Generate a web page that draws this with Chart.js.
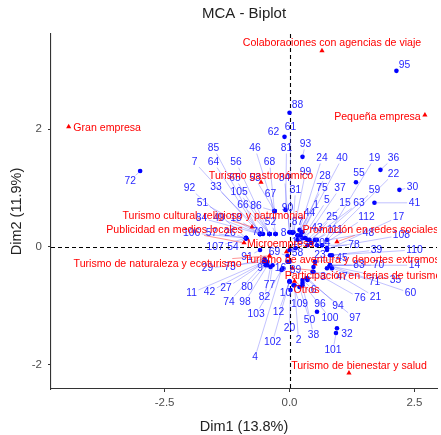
<!DOCTYPE html>
<html>
<head>
  <meta charset="UTF-8">
  <title>MCA - Biplot</title>
  <script src="https://cdn.jsdelivr.net/npm/chart.js"></script>
  <style>
    body { margin: 0; background: #fff; }
    #biplot { display: block; }
  </style>
</head>
<body>
  <canvas id="biplot" width="441" height="435"></canvas>

  <script>
    // individuals: coordinates and where their repelled labels sit
    const indId = [];
    for (let i = 1; i <= 112; i++) indId.push(String(i));
    const indDim1 = [0.22, 0.10, 0.34, -0.16, 0.26, 0.26, -0.59, -0.28, -0.44, 0, -0.51, 0, 0.12, 0.81, 0.36, -0.04, 0.75, -0.59, 0.65, 0.02,
      0.75, 0.75, 0.48, 0.20, 0.36, -0.87, -0.48, 0.24, -0.51, 2.20, 0.06, 0.93, -0.53, 0, 0.81, 1.82, 0.32, 0.26, 0.85, 0.26,
      1.70, -0.48, 0.16, 0.16, 0.51, -0.30, 0.46, 0.44, -0.59, 0.20, -0.59, -0.28, -0.30, -0.87, 1.33, -0.40, -0.87, 0, 0.55, 0.81,
      0.02, -0.10, 0.40, -0.59, -0.40, -0.40, -0.28, -0.30, -0.04, 0.81, 0.85, -2.99, -0.50, -0.48, 0.16, 0.48, -0.34, 0.55, -0.40, -0.48,
      -0.08, -0.38, 0.81, -0.59, -0.59, -0.30, 0.06, 0, 0, 0, -0.59, -0.87, 0.26, 0.36, 2.14, 0.55, 0.36, -0.44, 0.08, 0.26,
      0.95, 0, -0.14, 0.44, -0.40, -0.87, -0.87, 0.75, 0.08, 0.81, 0.51, 0.65];
    const indDim2 = [0.20, -0.65, -0.53, -0.39, 0.15, -0.56, 0.22, 0.22, -0.25, -0.58, -0.25, -0.59, -0.02, -0.31, 0.12, -0.25, -0.05, 0.22, 0.03, -0.73,
      -0.36, 0.12, -0.34, 0.29, 0.03, 0.15, -0.25, 0.25, -0.25, 0.97, 0.25, -1.46, 0.22, 0.25, -0.32, 1.31, 0.15, -0.65, -0.14, 0.25,
      0.75, -0.25, 0.12, 0.19, -0.25, 0.61, -0.42, 0.07, 0.22, -0.68, 0.22, 0.22, 0.61, 0.15, 1.10, 0.22, 0.15, -0.05, 0.12, -0.32,
      0.25, 1.87, 0.12, 0.22, 0.22, 0.22, 0.22, 0.61, -0.15, -0.31, -0.36, 1.29, -0.20, -0.25, 0.20, -0.42, -0.31, 0.03, 0.22, -0.31,
      0.63, -0.34, -0.31, 0.22, 0.22, 0.61, 0.24, 2.28, -0.25, 0.25, -0.05, 0.15, 1.53, -0.53, 2.99, -1.10, -0.56, -0.31, 0.25, -0.61,
      -1.38, -0.59, -0.36, 0.07, 0.22, 0.15, 0.15, -0.02, -0.65, -0.14, 0.12, 0.03];
    const indLabDim1 = [0.53, 0.18, 0.67, -0.69, 0.75, 0.48, -1.90, -0.12, -0.59, -0.08, -1.96, -0.22, 0.16, 2.50, 1.11, -0.18, 2.18, -1.07, 1.70, 0,
      1.72, 2.08, 0.61, 0.65, 0.85, -1.19, -1.27, 0.71, -1.64, 2.46, 0.12, 1.15, -1.47, -0.10, 2.12, 2.08, 1.01, 0.48, 1.74, 1.05,
      2.50, -1.60, 0.55, 0.40, 1.05, -0.69, 1.05, 1.58, -1.41, 0.40, -1.74, -0.38, -0.69, -1.13, 1.39, -1.07, -1.56, 0.16, 1.70, 2.42,
      0.02, -0.32, 1.39, -1.52, -1.09, -0.93, -0.38, -0.40, -0.30, 1.78, 1.70, -3.19, -1.19, -1.21, 0.65, 1.41, -0.40, 1.29, -0.63, -0.85,
      -0.06, -0.50, 1.39, -1.76, -1.52, -0.67, 0.16, 0.16, 0.12, -0.04, -0.85, -2.00, 0.32, 0.97, 2.30, 0.61, 1.31, -0.89, 0.32, 0.81,
      0.87, -0.34, -0.67, 0.65, -1.01, -1.96, -1.49, 2.24, 0.20, 2.50, 0.91, 1.54];
    const indLabDim2 = [0.71, -1.58, -0.51, -1.87, 0.80, -0.73, 1.44, 0.24, -0.36, -0.78, -0.78, -1.10, 0.08, -0.31, 0.75, -0.36, 0.51, 0.49, 1.51, -1.38,
      -0.85, 1.24, -0.14, 1.51, 0.51, 0.24, -0.70, 1.21, -0.36, 1.02, 0.97, -1.48, 1.02, 1.17, -0.56, 1.51, 1.00, -1.49, -0.05, 1.51,
      0.75, -0.76, 0.32, 0.58, -0.19, 1.68, -0.51, 0.24, 0.49, -1.24, 0.75, 0.42, 1.17, 0, 1.26, 1.44, 0.24, -0.10, 0.97, -0.78,
      2.04, 1.95, 0.75, 1.44, 1.17, 0.71, 0.90, 1.44, -0.08, -0.31, -0.59, 1.12, -0.34, -0.93, 1.00, -0.87, -0.65, 0.03, 0.25, -0.68,
      1.68, -0.85, -0.31, 0.49, 1.68, 0.70, 0.42, 2.41, -0.39, 0.66, -0.17, 1.00, 1.75, -1.00, 3.09, -0.97, -1.21, -0.93, 1.27, -1.21,
      -1.75, -1.61, -1.14, 0.07, 0.93, 0.24, 0, 0.20, -0.97, -0.05, 0.29, 0.51];

    // variable categories
    const catNames = ['Colaboraciones con agencias de viaje', 'Gran empresa', 'Pequeña empresa', 'Turismo gastronómico',
      'Turismo cultural, religioso y patrimonial', 'Publicidad en medios locales', 'Microempresa', 'Promoción en redes sociales',
      'Turismo de naturaleza y ecoturismo', 'Turismo de aventura y deportes extremos', 'Participación en ferias de turismo',
      'Otros', 'Turismo de bienestar y salud'];
    const catDim1 = [0.65, -4.42, 2.71, -0.57, -0.75, -0.91, -0.06, 0.95, -0.40, 0.51, 0.06, 0.10, 1.19];
    const catDim2 = [3.33, 2.04, 2.24, 1.10, 0.34, 0.07, -0.08, 0.09, -0.15, -0.29, -0.36, -0.58, -2.14];
    const catLabDim1 = [0.85, -3.65, 1.76, -0.57, -1.51, -2.30, -0.18, 1.62, -2.64, 1.05, 1.47, 0.34, 1.39];
    const catLabDim2 = [3.46, 2.02, 2.21, 1.21, 0.53, 0.29, 0.05, 0.29, -0.29, -0.22, -0.49, -0.73, -2.02];

    const xTicks = [-2.5, 0, 2.5];
    const yTicks = [-2, 0, 2];

    const FONT = '"Liberation Sans", Arial, sans-serif';

    function drawRepel(ctx, xs, ys, px, py, lx, ly, text, font, textColor, segColor) {
      ctx.font = font;
      const w = ctx.measureText(text).width;
      const h = 9;
      const cx = xs.getPixelForValue(lx), cy = ys.getPixelForValue(ly);
      const ax = xs.getPixelForValue(px), ay = ys.getPixelForValue(py);
      const dx = ax - cx, dy = ay - cy;
      const hw = w / 2 + 1.5, hh = h / 2 + 1;
      let t = Infinity;
      if (dx !== 0) t = Math.min(t, hw / Math.abs(dx));
      if (dy !== 0) t = Math.min(t, hh / Math.abs(dy));
      if (t < 1) {
        const sx = cx + dx * t, sy = cy + dy * t;
        if (Math.hypot(ax - sx, ay - sy) > 5) {
          ctx.strokeStyle = segColor;
          ctx.lineWidth = 0.7;
          ctx.beginPath();
          ctx.moveTo(sx, sy);
          ctx.lineTo(ax, ay);
          ctx.stroke();
        }
      }
      ctx.fillStyle = textColor;
      ctx.textAlign = 'center';
      ctx.textBaseline = 'middle';
      ctx.fillText(text, cx, cy);
    }

    const biplotDecor = {
      id: 'biplotDecor',
      beforeDatasetsDraw(chart) {
        const { ctx, chartArea: a, scales: { x, y } } = chart;
        ctx.save();
        ctx.strokeStyle = '#000';
        ctx.lineWidth = 1.1;
        ctx.setLineDash([4, 3]);
        const x0 = Math.round(x.getPixelForValue(0)) + 0.5;
        const y0 = Math.round(y.getPixelForValue(0)) + 0.5;
        ctx.beginPath();
        ctx.moveTo(x0, a.top); ctx.lineTo(x0, a.bottom);
        ctx.moveTo(a.left, y0); ctx.lineTo(a.right, y0);
        ctx.stroke();
        ctx.restore();
      },
      afterDatasetsDraw(chart) {
        const { ctx, chartArea: a, scales: { x, y } } = chart;
        ctx.save();
        ctx.beginPath();
        ctx.rect(a.left, a.top, a.right - a.left, a.bottom - a.top);
        ctx.clip();
        indId.forEach((id, i) => {
          drawRepel(ctx, x, y, indDim1[i], indDim2[i], indLabDim1[i], indLabDim2[i], id,
            '10.3px ' + FONT, 'rgb(40,40,255)', 'rgba(60,60,255,0.45)');
        });
        catNames.forEach((name, i) => {
          drawRepel(ctx, x, y, catDim1[i], catDim2[i], catLabDim1[i], catLabDim2[i], name,
            '10.6px ' + FONT, '#FF0000', 'rgba(255,0,0,0.6)');
        });
        ctx.restore();
      },
      afterDraw(chart) {
        const { ctx, chartArea: a } = chart;
        ctx.save();
        ctx.fillStyle = '#222';
        ctx.textAlign = 'center';
        ctx.textBaseline = 'middle';
        ctx.font = '15px ' + FONT;
        ctx.fillText('MCA - Biplot', (a.left + a.right) / 2, 14);
        ctx.font = '14.5px ' + FONT;
        ctx.fillText('Dim1 (13.8%)', (a.left + a.right) / 2, 427);
        ctx.translate(17, (a.top + a.bottom) / 2);
        ctx.rotate(-Math.PI / 2);
        ctx.fillText('Dim2 (11.9%)', 0, 0);
        ctx.restore();
      }
    };

    new Chart(document.getElementById('biplot'), {
      type: 'scatter',
      data: {
        datasets: [{
          label: 'Individuos',
          data: indDim1.map((v, i) => ({ x: v, y: indDim2[i] })),
          backgroundColor: '#0000FF',
          borderWidth: 0,
          pointRadius: 2.3
        }, {
          label: 'Categorías',
          data: catDim1.map((v, i) => ({ x: v, y: catDim2[i] })),
          backgroundColor: '#FF0000',
          borderWidth: 0,
          pointStyle: 'triangle',
          pointRadius: 3
        }]
      },
      options: {
        responsive: false,
        animation: false,
        layout: { padding: { top: 34, right: 0, bottom: 0, left: 0 } },
        plugins: {
          legend: { display: false },
          tooltip: { enabled: false }
        },
        scales: {
          x: {
            type: 'linear',
            min: -4.774,
            max: 2.952,
            afterBuildTicks: s => { s.ticks = xTicks.map(v => ({ value: v })); },
            afterFit: s => { s.height = 46; },
            ticks: {
              color: '#4D4D4D',
              font: { family: FONT, size: 11.5 },
              padding: 4,
              maxRotation: 0,
              callback: v => v.toFixed(1)
            },
            grid: { drawOnChartArea: false, drawTicks: true, tickLength: 3, color: '#333' },
            border: { display: true, color: '#333', width: 1.1 }
          },
          y: {
            type: 'linear',
            min: -2.411,
            max: 3.616,
            afterBuildTicks: s => { s.ticks = yTicks.map(v => ({ value: v })); },
            afterFit: s => { s.width = 51; },
            ticks: {
              color: '#4D4D4D',
              font: { family: FONT, size: 11.5 },
              padding: 6,
              callback: v => String(v)
            },
            grid: { drawOnChartArea: false, drawTicks: true, tickLength: 3, color: '#333' },
            border: { display: true, color: '#333', width: 1.1 }
          }
        }
      },
      plugins: [biplotDecor]
    });
  </script>
</body>
</html>
